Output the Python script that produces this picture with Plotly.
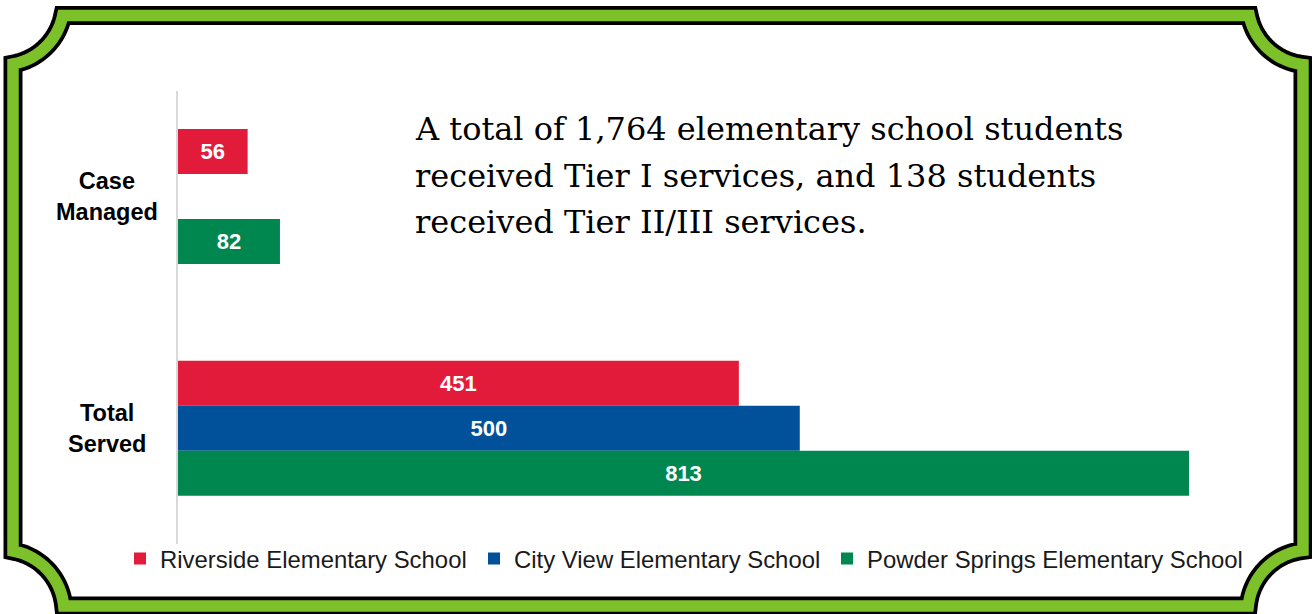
import numpy as np
import plotly.graph_objects as go

# ---------------- data ----------------
categories = ["Case Managed", "Total Served"]
category_labels = ["Case<br>Managed", "Total<br>Served"]
school_names = ["Riverside Elementary School", "City View Elementary School",
                "Powder Springs Elementary School"]
riverside = [56, 451]
city_view = [None, 500]
powder_springs = [82, 813]
series_values = [riverside, city_view, powder_springs]
series_colors = ["#E21B3A", "#00519A", "#00874F"]
headline_lines = ["A total of 1,764 elementary school students",
                  "received Tier I services, and 138 students",
                  "received Tier II/III services."]

# ---------------- layout geometry (pixels) ----------------
W, H = 1312, 614
ML, MR, MT, MB = 178, 62, 91, 70
PW, PH = W - ML - MR, H - MT - MB


def px_x(px):
    return (px - ML) / PW


def px_y(py):
    return 1 - (py - MT) / PH


legend_ids = ["legend", "legend2", "legend3"]
legend_px = [120, 474, 827]

fig = go.Figure()
for name, vals, col, lid in zip(school_names, series_values, series_colors, legend_ids):
    fig.add_trace(go.Bar(
        y=categories, x=vals, name=name, orientation="h",
        marker=dict(color=col, line=dict(width=0)),
        texttemplate="<b>%{x}</b>", textposition="inside",
        insidetextanchor="middle",
        textfont=dict(color="white", size=22, family="Liberation Sans, Arial"),
        hoverinfo="skip", legend=lid,
    ))

# category labels (centered, two lines)
for cat, lab in zip(categories, category_labels):
    fig.add_annotation(x=px_x(107), xref="paper", y=cat, yref="y",
                       text=f"<b>{lab}</b>", showarrow=False, align="center",
                       xanchor="center", yanchor="middle",
                       font=dict(size=23.5, color="black",
                                 family="Liberation Sans, Arial"))

# headline text, one annotation per line
for i, line in enumerate(headline_lines):
    fig.add_annotation(x=px_x(413), xref="paper", y=px_y(108 + 46.7 * i),
                       yref="paper", text=line, showarrow=False, align="left",
                       xanchor="left", yanchor="top",
                       font=dict(size=32, color="black",
                                 family="DejaVu Serif, serif"))

# ---------------- decorative frame ----------------
xl, xr, yt, yb = 13, 1303, 15.5, 606
R = 62
corners = [
    ((1310, 3), ("y", yt), ("x", xr)),       # top-right
    ((1310, 612), ("x", xr), ("y", yb)),     # bottom-right
    ((2, 612), ("y", yb), ("x", xl)),        # bottom-left
    ((2, 3), ("x", xl), ("y", yt)),          # top-left
]


def hit(cx, cy, side):
    kind, v = side
    if kind == "y":
        d = np.sqrt(R ** 2 - (v - cy) ** 2)
        x = cx - d if cx > W / 2 else cx + d
        return x, v
    d = np.sqrt(R ** 2 - (v - cx) ** 2)
    y = cy + d if cy < H / 2 else cy - d
    return v, y


pts = []
for (cx, cy), s_in, s_out in corners:
    p0 = hit(cx, cy, s_in)
    p1 = hit(cx, cy, s_out)
    a0 = np.arctan2(p0[1] - cy, p0[0] - cx)
    a1 = np.arctan2(p1[1] - cy, p1[0] - cx)
    d = (a1 - a0 + np.pi) % (2 * np.pi) - np.pi
    for t in np.linspace(a0, a0 + d, 28):
        pts.append((cx + R * np.cos(t), cy + R * np.sin(t)))

path = "M " + " L ".join(f"{px_x(x):.5f},{px_y(y):.5f}" for x, y in pts) + " Z"
for lw, col in [(19, "black"), (11.5, "#7DC12A")]:
    fig.add_shape(type="path", path=path, xref="paper", yref="paper",
                  line=dict(color=col, width=lw), fillcolor="rgba(0,0,0,0)",
                  layer="above")

legend_style = dict(orientation="h", xanchor="left", y=px_y(559),
                    yanchor="middle",
                    font=dict(size=23.9, color="#1a1a1a",
                              family="Liberation Sans, Arial"),
                    bgcolor="rgba(0,0,0,0)", borderwidth=0)

fig.update_layout(
    width=W, height=H,
    margin=dict(l=ML, r=MR, t=MT, b=MB),
    paper_bgcolor="white", plot_bgcolor="white",
    barmode="group", bargap=0.417, bargroupgap=0,
    font=dict(family="Liberation Sans, Arial", color="black"),
    xaxis=dict(range=[0, PW / ((1189 - 178) / 813)], showgrid=False,
               showticklabels=False, zeroline=False, ticks="", showline=False),
    yaxis=dict(range=[1.5, -0.456], showgrid=False, showticklabels=False,
               ticks="", showline=True, linecolor="#D9D9D9", linewidth=2,
               zeroline=False),
    showlegend=True,
)
for lid, lx in zip(legend_ids, legend_px):
    fig.update_layout({lid: dict(legend_style, x=px_x(lx))})

fig.write_html("out.html",
               config={"displayModeBar": False},
               post_script="document.body.style.margin='0';"
                           "document.body.style.padding='0';"
                           "document.body.style.overflow='hidden';")
